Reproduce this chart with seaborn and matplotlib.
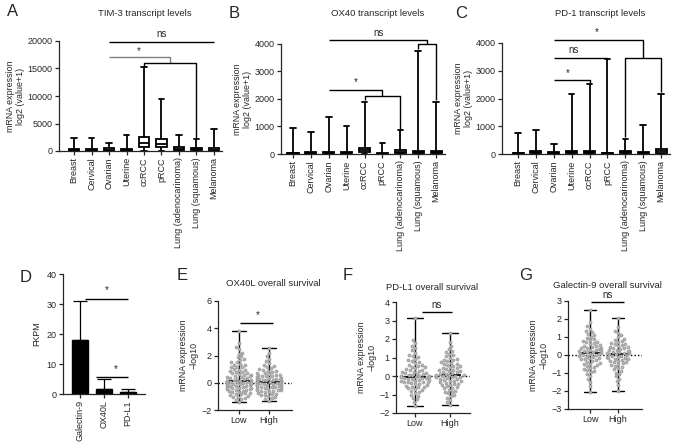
import matplotlib
matplotlib.use("Agg")
import matplotlib.pyplot as plt
import numpy as np
import pandas as pd
import seaborn as sns

W, H = 677, 447

tumours = ["Breast", "Cervical", "Ovarian", "Uterine", "ccRCC", "pRCC",
           "Lung (adenocarinoma)", "Lung (squamous)", "Melanoma"]

# five-number summaries per tumour type: min, q1, median, q3, max
tim3_summary = [
    [0, 60, 200, 450, 2400],
    [0, 40, 150, 350, 2300],
    [0, 80, 250, 500, 1400],
    [0, 40, 120, 300, 2900],
    [0, 750, 1400, 2500, 15200],
    [0, 650, 1200, 2200, 9400],
    [0, 150, 400, 750, 2900],
    [0, 100, 300, 600, 2200],
    [0, 80, 250, 550, 4000],
]
ox40_summary = [
    [0, 10, 25, 50, 950],
    [0, 15, 40, 80, 800],
    [0, 20, 50, 90, 1330],
    [0, 20, 50, 90, 1030],
    [0, 80, 150, 230, 1900],
    [0, 5, 15, 35, 400],
    [0, 40, 90, 140, 860],
    [0, 25, 60, 100, 3750],
    [0, 30, 70, 120, 1900],
]
pd1_summary = [
    [0, 10, 25, 50, 760],
    [0, 30, 60, 100, 860],
    [0, 15, 35, 60, 370],
    [0, 30, 60, 100, 2180],
    [0, 40, 70, 110, 2510],
    [0, 10, 25, 45, 3420],
    [0, 40, 80, 120, 550],
    [0, 20, 45, 80, 1040],
    [0, 50, 110, 190, 2180],
]

fkpm_genes = ["Galectin-9", "OX40L", "PD-L1"]
fkpm_mean = [18.0, 1.8, 0.8]
fkpm_sd = [13.0, 3.2, 0.9]

groups = ["Low", "High"]

ox40l_low = [3.82, 2.94, 2.63, 2.47, 2.21, 2.12, 1.93, 1.86, 1.71, 1.66, 1.52, 1.49,
             1.38, 1.33, 1.27, 1.19, 1.14, 1.12, 1.03, 0.97, 0.95, 0.88, 0.81, 0.79,
             0.73, 0.68, 0.66, 0.58, 0.55, 0.52, 0.47, 0.43, 0.41, 0.36, 0.33, 0.29,
             0.26, 0.21, 0.18, 0.16, 0.14, 0.11, 0.08, 0.06, 0.02, -0.03, -0.05, -0.09,
             -0.14, -0.17, -0.22, -0.26, -0.29, -0.35, -0.38, -0.44, -0.47, -0.53, -0.58,
             -0.62, -0.69, -0.74, -0.81, -0.86, -0.93, -1.01, -1.08, -1.17, -1.26, -1.38,
             -0.12, -0.31, -0.41, -0.51, -0.66, -0.78, -0.97, -1.12, -0.02, -0.24, 0.04, -0.07]
ox40l_high = [2.58, 2.21, 1.97, 1.74, 1.58, 1.43, 1.31, 1.22, 1.16, 1.07, 1.01, 0.94,
              0.89, 0.83, 0.78, 0.72, 0.69, 0.63, 0.59, 0.54, 0.51, 0.46, 0.42, 0.38,
              0.35, 0.31, 0.28, 0.24, 0.21, 0.18, 0.15, 0.13, 0.11, 0.09, 0.07, 0.04,
              0.02, -0.01, -0.04, -0.06, -0.09, -0.12, -0.15, -0.18, -0.21, -0.24, -0.27,
              -0.31, -0.34, -0.37, -0.41, -0.44, -0.48, -0.52, -0.56, -0.61, -0.65, -0.7,
              -0.75, -0.8, -0.86, -0.92, -0.98, -1.05, -1.13, -1.21, -1.32,
              0.3, 0.5, -0.3, -0.5, 0.0, 0.2, -0.2, 0.6, -0.6, -0.9]

pdl1_low = [3.12, 1.93, 1.78, 1.62, 1.51, 1.38, 1.27, 1.14, 1.09, 1.02, 0.94, 0.86,
            0.81, 0.74, 0.69, 0.62, 0.58, 0.51, 0.47, 0.42, 0.37, 0.33, 0.29, 0.24,
            0.21, 0.17, 0.13, 0.09, 0.06, 0.03, 0.01, -0.02, -0.04, -0.06, -0.08, -0.11,
            -0.13, -0.16, -0.19, -0.22, -0.25, -0.28, -0.31, -0.34, -0.38, -0.41, -0.45,
            -0.49, -0.53, -0.57, -0.62, -0.66, -0.71, -0.76, -0.82, -0.88, -0.94, -1.01,
            -1.09, -1.18, -1.27, -1.41, -1.6,
            0.15, -0.15, 0.35, -0.35, 0.55, -0.6, 0.0, -0.1, -0.3]
pdl1_high = [2.35, 1.84, 1.62, 1.48, 1.36, 1.29, 1.21, 1.13, 1.06, 0.99, 0.93, 0.87,
             0.81, 0.76, 0.71, 0.66, 0.61, 0.56, 0.52, 0.47, 0.43, 0.39, 0.35, 0.31,
             0.27, 0.23, 0.19, 0.16, 0.12, 0.09, 0.06, 0.03, 0.01, -0.02, -0.05, -0.08,
             -0.11, -0.14, -0.18, -0.21, -0.25, -0.29, -0.33, -0.37, -0.41, -0.46, -0.51,
             -0.56, -0.61, -0.67, -0.73, -0.79, -0.86, -0.93, -1.01, -1.09, -1.18, -1.29,
             -1.41, -1.55,
             0.25, -0.25, 0.45, -0.45, 0.65, -0.65, 0.85, -0.85, 0.05, -0.05]

gal9_low = [2.5, 1.82, 1.61, 1.47, 1.35, 1.26, 1.18, 1.09, 1.02, 0.95, 0.88, 0.82,
            0.76, 0.71, 0.65, 0.6, 0.55, 0.5, 0.46, 0.41, 0.37, 0.33, 0.29, 0.25,
            0.21, 0.18, 0.14, 0.11, 0.08, 0.05, 0.02, -0.01, -0.04, -0.08, -0.11, -0.15,
            -0.19, -0.23, -0.27, -0.32, -0.37, -0.42, -0.48, -0.54, -0.61, -0.68, -0.76,
            -0.85, -0.95, -1.06, -1.18, -1.32, -1.48, -1.7, -2.05,
            0.3, 0.5, 0.7, -0.9, 0.1, 0.2, -0.2, -0.5, 0.4, -0.7]
gal9_high = [2.05, 1.58, 1.36, 1.21, 1.09, 0.99, 0.91, 0.84, 0.78, 0.72, 0.66, 0.61,
             0.56, 0.51, 0.46, 0.42, 0.38, 0.34, 0.3, 0.26, 0.22, 0.19, 0.15, 0.12,
             0.09, 0.06, 0.03, 0.0, -0.03, -0.06, -0.1, -0.14, -0.18, -0.22, -0.26,
             -0.31, -0.36, -0.41, -0.46, -0.52, -0.58, -0.65, -0.72, -0.8, -0.89, -0.98,
             -1.08, -1.19, -1.31, -1.46, -1.65, -2.0,
             0.2, 0.4, 0.6, -0.2, -0.4, -0.6, 0.1, -0.1]


def px_axes(fig, left, top, right, bottom):
    return fig.add_axes([left / W, 1 - bottom / H, (right - left) / W, (bottom - top) / H])


def px_text(fig, x, y, s, **kw):
    fig.text(x / W, 1 - y / H, s, **kw)


def line(ax, xs, ys, color="black"):
    ax.plot(xs, ys, color=color, lw=1.0, clip_on=False, solid_capstyle="butt")


def style_axes(ax):
    sns.despine(ax=ax)
    ax.tick_params(direction="out", length=3, width=0.9, labelsize=6.5, pad=1.5)
    ax.set_xlabel("")


def box_panel(ax, summary, ymax, step, xlim):
    df = pd.DataFrame({"tumour": np.repeat(tumours, 5),
                       "value": np.concatenate(summary)})
    sns.boxplot(data=df, x="tumour", y="value", order=tumours, whis=(0, 100),
                width=0.62, color="white", linecolor="black", linewidth=1.3, ax=ax)
    ax.set_ylim(0, ymax)
    ax.set_yticks(np.arange(0, ymax + 1, step))
    ax.set_xlim(*xlim)
    style_axes(ax)
    ax.tick_params(axis="x", labelrotation=90)
    ax.set_ylabel("mRNA expression\nlog2 (value+1)", fontsize=6.4, labelpad=2)


def survival_panel(ax, low, high, ylim, xlim):
    df = pd.DataFrame({"group": ["Low"] * len(low) + ["High"] * len(high),
                       "value": low + high})
    sns.swarmplot(data=df, x="group", y="value", order=groups, color="#b2b2b2",
                  size=2.3, edgecolor="#8a8a8a", linewidth=0.3, ax=ax, warn_thresh=1)
    sns.pointplot(data=df, x="group", y="value", order=groups, estimator="median",
                  errorbar=("pi", 100), capsize=0.45, color="black", linestyle="none",
                  marker="_", markersize=16, markeredgewidth=1.3,
                  err_kws={"linewidth": 1.0}, ax=ax)
    ax.axhline(0, color="black", ls=(0, (1, 1.5)), lw=1.0, zorder=0)
    ax.set_ylim(*ylim)
    ax.set_xlim(*xlim)
    style_axes(ax)
    ax.set_ylabel("mRNA expression\n\u2212log10", fontsize=6.4, labelpad=2)


sns.set_style("ticks")
plt.rcParams["font.family"] = ["Liberation Sans", "DejaVu Sans"]
plt.rcParams["axes.linewidth"] = 0.9

fig = plt.figure(figsize=(W / 100, H / 100), dpi=100)

# ---- A: TIM-3
axA = px_axes(fig, 59, 41, 222, 151)
box_panel(axA, tim3_summary, 20000, 5000, (-0.86, 8.46))
line(axA, [2, 8], [19900, 19900])
axA.text(5, 20300, "ns", ha="center", va="bottom", fontsize=7)
line(axA, [2, 5.5, 5.5], [17100, 17100, 16000], color="#7f7f7f")
line(axA, [4, 4, 7, 7], [15300, 16000, 16000, 2300])
axA.text(3.7, 17300, "*", ha="center", va="bottom", fontsize=7)

# ---- B: OX40
axB = px_axes(fig, 281, 44, 445, 154)
box_panel(axB, ox40_summary, 4000, 1000, (-0.67, 8.5))
line(axB, [2, 7.5, 7.5], [4130, 4130, 4010])
line(axB, [7, 7, 8, 8], [3800, 4010, 4010, 1950])
axB.text(4.8, 4230, "ns", ha="center", va="bottom", fontsize=7)
line(axB, [2, 5, 5], [2340, 2340, 2100])
line(axB, [4, 4, 6, 6], [1950, 2100, 2100, 900])
axB.text(3.5, 2430, "*", ha="center", va="bottom", fontsize=7)

# ---- C: PD-1
axC = px_axes(fig, 502, 43, 670, 154)
box_panel(axC, pd1_summary, 4000, 1000, (-0.9, 8.5))
line(axC, [2, 7, 7], [4100, 4100, 3470])
line(axC, [6, 6, 8, 8], [600, 3470, 3470, 2230])
axC.text(4.4, 4230, "*", ha="center", va="bottom", fontsize=7)
line(axC, [2, 5, 5], [3470, 3470, 3430])
axC.text(3.1, 3580, "ns", ha="center", va="bottom", fontsize=7)
line(axC, [2, 4, 4], [2650, 2650, 2560])
axC.text(2.8, 2740, "*", ha="center", va="bottom", fontsize=7)

# ---- D: FKPM bars
axD = px_axes(fig, 63, 274, 145, 394)
sns.barplot(x=fkpm_genes, y=fkpm_mean, color="black", width=0.67,
            edgecolor="black", errorbar=None, ax=axD)
axD.errorbar(range(len(fkpm_genes)), fkpm_mean,
             yerr=[np.zeros(len(fkpm_sd)), fkpm_sd], fmt="none",
             ecolor="black", elinewidth=0.9, capsize=5, capthick=0.9)
axD.set_ylim(0, 40)
axD.set_yticks([0, 10, 20, 30, 40])
axD.set_xlim(-0.71, 2.7)
style_axes(axD)
axD.tick_params(axis="x", labelrotation=90)
axD.set_ylabel("FKPM", fontsize=6.4, labelpad=4)
line(axD, [0.2, 2.0], [31.8, 31.8])
axD.text(1.13, 33, "*", ha="center", va="bottom", fontsize=7)
line(axD, [0.65, 2.0], [5.6, 5.6])
axD.text(1.5, 6.6, "*", ha="center", va="bottom", fontsize=7)

# ---- E/F/G: overall survival
axE = px_axes(fig, 218, 301, 292, 410)
survival_panel(axE, ox40l_low, ox40l_high, (-2, 6), (-0.7, 1.77))
axE.set_yticks([-2, 0, 2, 4, 6])
line(axE, [0.05, 1.15], [4.4, 4.4])
axE.text(0.62, 4.6, "*", ha="center", va="bottom", fontsize=7)

axF = px_axes(fig, 396, 302, 470, 413)
survival_panel(axF, pdl1_low, pdl1_high, (-2, 4), (-0.54, 1.57))
axF.set_yticks(range(-2, 5))
line(axF, [0.2, 1.06], [3.44, 3.44])
axF.text(0.63, 3.55, "ns", ha="center", va="bottom", fontsize=7)

axG = px_axes(fig, 568, 301, 642, 409)
survival_panel(axG, gal9_low, gal9_high, (-3, 3), (-0.79, 1.86))
axG.set_yticks(range(-3, 4))
line(axG, [0.04, 1.2], [2.93, 2.93])
axG.text(0.64, 3.05, "ns", ha="center", va="bottom", fontsize=7)

# ---- titles and panel letters
title_kw = dict(ha="center", va="center", fontsize=6.8)
px_text(fig, 145, 13, "TIM-3 transcript levels", **title_kw)
px_text(fig, 378, 13, "OX40 transcript levels", **title_kw)
px_text(fig, 600, 14, "PD-1 transcript levels", **title_kw)
px_text(fig, 273, 283, "OX40L overall survival", **title_kw)
px_text(fig, 432, 288, "PD-L1 overall survival", **title_kw)
px_text(fig, 607, 285, "Galectin-9 overall survival", **title_kw)

letter_kw = dict(ha="left", va="center", fontsize=12)
for x, y, s in [(7, 12, "A"), (229, 13, "B"), (455, 13, "C"), (20, 277, "D"),
                (177, 275, "E"), (343, 275, "F"), (519, 275, "G")]:
    px_text(fig, x, y, s, **letter_kw)

fig.savefig("out.png", dpi=100)
plt.close(fig)
